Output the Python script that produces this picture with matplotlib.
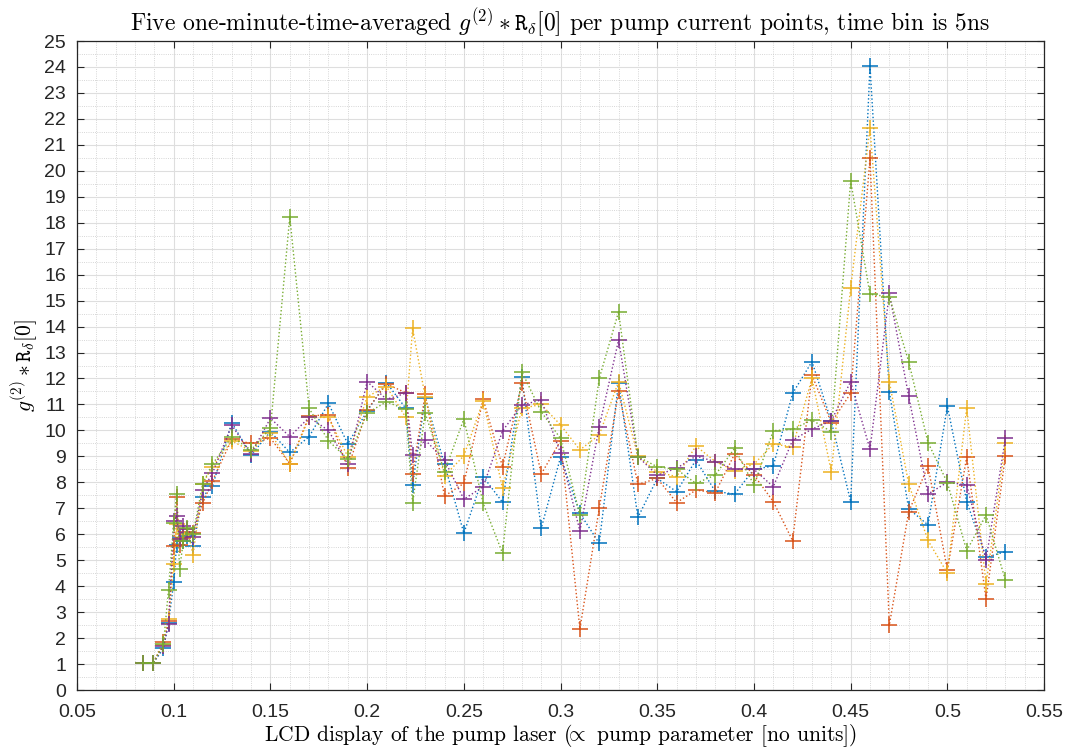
import matplotlib
matplotlib.use("Agg")
import matplotlib.pyplot as plt
from matplotlib.ticker import MultipleLocator

# LCD pump setting values (shared by all five runs)
x_lcd = [0.084, 0.0895, 0.0947, 0.0973, 0.1, 0.1015, 0.103, 0.105, 0.107, 0.11, 0.115, 0.12,
         0.13, 0.14, 0.15, 0.16, 0.17, 0.18, 0.19, 0.2, 0.21, 0.22, 0.2235,
         0.23, 0.24, 0.25, 0.26, 0.27, 0.28, 0.29, 0.3, 0.31, 0.32, 0.33, 0.34,
         0.35, 0.36, 0.37, 0.38, 0.39, 0.4, 0.41, 0.42, 0.43, 0.44, 0.45, 0.46,
         0.47, 0.48, 0.49, 0.5, 0.51, 0.52, 0.53]

run1 = [1.05, 1.05, 1.60, 2.60, 4.15, 5.60, 5.85, 5.75, 5.95, 5.55, 7.45, 7.85,
        10.3, 9.05, 9.95, 9.15, 9.76, 11.04, 9.48, 10.75, 11.84, 10.85, 7.9,
        11.24, 8.7, 6.04, 8.22, 7.23, 12.04, 6.23, 8.97, 6.81, 5.65, 11.84, 6.65,
        8.15, 7.64, 8.86, 7.65, 7.55, 8.5, 8.63, 11.43, 12.65, 10.35, 7.26, 24.04,
        11.49, 6.98, 6.36, 10.94, 7.26, 5.11, 5.33]

run2 = [1.05, 1.05, 1.85, 2.65, 5.55, 7.45, 5.60, 5.85, 6.10, 6.05, 7.20, 8.05,
        9.65, 9.5, 9.7, 8.72, 10.56, 10.6, 8.54, 10.79, 11.79, 11.45, 8.33,
        11.39, 7.47, 7.96, 11.2, 8.6, 11.81, 8.32, 9.6, 2.35, 7.0, 11.5, 7.92,
        8.15, 7.22, 7.7, 7.6, 9.09, 8.28, 7.26, 5.75, 12.13, 10.3, 11.43, 20.48,
        2.5, 6.86, 8.63, 4.62, 8.98, 3.5, 9.02]

run3 = [1.05, 1.05, 1.75, 2.75, 4.85, 6.40, 5.80, 6.00, 6.20, 5.20, 7.95, 8.60,
        9.6, 9.2, 9.9, 8.7, 10.5, 10.5, 8.99, 11.3, 11.69, 10.5, 13.93,
        11.3, 8.25, 9.02, 11.14, 7.77, 10.85, 11.0, 10.21, 9.25, 9.82, 11.88, 9.0,
        8.4, 8.22, 9.4, 8.8, 8.45, 8.7, 9.47, 9.37, 12.0, 8.41, 15.48, 21.66,
        11.88, 7.94, 5.76, 4.5, 10.88, 4.08, 9.5]

run4 = [1.05, 1.05, 1.70, 2.55, 6.50, 6.70, 5.80, 6.30, 6.20, 5.90, 7.70, 8.35,
        10.2, 9.1, 10.47, 9.76, 10.5, 10.0, 8.7, 11.88, 11.2, 11.43, 9.05,
        9.63, 8.86, 7.35, 7.83, 9.98, 10.98, 11.17, 9.12, 6.13, 10.14, 13.48, 8.99,
        8.28, 8.54, 9.01, 8.8, 8.5, 8.5, 7.83, 9.63, 10.05, 10.37, 11.88, 9.27,
        15.28, 11.32, 7.55, 8.0, 7.9, 5.01, 9.69]

run5 = [1.05, 1.05, 1.78, 3.87, 6.45, 7.55, 4.65, 5.75, 6.25, 6.00, 7.95, 8.70,
        9.75, 9.25, 10.08, 18.23, 10.85, 9.6, 8.9, 10.67, 11.1, 10.81, 7.2,
        10.66, 8.41, 10.44, 7.19, 5.27, 12.26, 10.72, 9.69, 6.74, 12.0, 14.57, 8.99,
        8.6, 8.5, 7.96, 8.28, 9.31, 7.9, 9.99, 10.04, 10.4, 9.95, 19.62, 15.24,
        15.15, 12.65, 9.53, 7.99, 5.37, 6.74, 4.24]

runs = [run1, run2, run3, run4, run5]
colors = ["#0072BD", "#D95319", "#EDB120", "#7E2F8E", "#77AC30"]

plt.rcParams["mathtext.fontset"] = "cm"
plt.rcParams["font.family"] = ["Liberation Sans", "DejaVu Sans"]

fig = plt.figure(figsize=(10.67, 7.51), dpi=100)
ax = fig.add_axes([0.0722, 0.0812, 0.9063, 0.8642])

for y, c in zip(runs, colors):
    ax.plot(x_lcd, y, linestyle=":", linewidth=1.0, color=c,
            marker="+", markersize=11, markeredgewidth=1.1)

ax.set_xlim(0.05, 0.55)
ax.set_ylim(0, 25)
ax.xaxis.set_minor_locator(MultipleLocator(0.01))
ax.yaxis.set_major_locator(MultipleLocator(1))
ax.yaxis.set_minor_locator(MultipleLocator(0.5))
ax.set_xticks([0.05, 0.1, 0.15, 0.2, 0.25, 0.3, 0.35, 0.4, 0.45, 0.5, 0.55])
ax.set_xticklabels(["0.05", "0.1", "0.15", "0.2", "0.25", "0.3", "0.35",
                    "0.4", "0.45", "0.5", "0.55"])

ax.grid(True, which="major", color="#dedede", linewidth=0.8, linestyle="-")
ax.grid(True, which="minor", color="#c9c9c9", linewidth=0.6, linestyle=":")
ax.set_axisbelow(True)

ax.tick_params(which="both", direction="in", top=True, right=True,
               colors="#262626", labelsize=14)
ax.tick_params(which="major", length=5, width=0.8)
ax.tick_params(which="minor", length=0)
ax.tick_params(axis="x", pad=10)
ax.tick_params(axis="y", pad=8)
for s in ax.spines.values():
    s.set_color("#262626")
    s.set_linewidth(0.9)

ax.set_title(r"Five one-minute-time-averaged $g^{(2)} * \mathtt{R}_\delta[0]$ per pump current points, time bin is 5ns",
             family="cmr10", fontsize=17, pad=7)
ax.set_xlabel(r"LCD display of the pump laser ($\!\!\propto$ pump parameter [no units])",
              family="cmr10", fontsize=15.5, labelpad=1)
ax.set_ylabel(r"$g^{(2)} * \mathtt{R}_\delta[0]$", family="cmr10", fontsize=15.5, labelpad=3)

fig.savefig("out.png", dpi=100)
